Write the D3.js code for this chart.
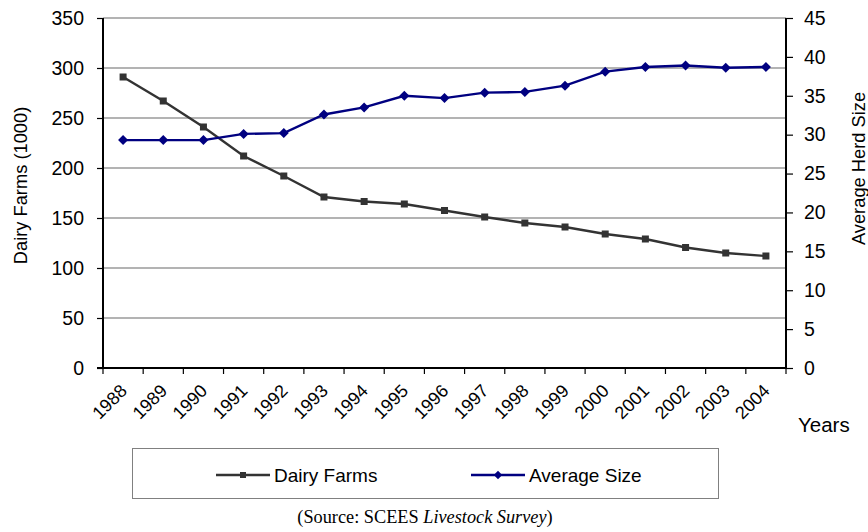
<!DOCTYPE html>
<html>
<head>
<meta charset="utf-8">
<script src="https://cdn.jsdelivr.net/npm/d3@7"></script>
<style>
  html, body { margin: 0; padding: 0; background: #fff; }
  svg { display: block; }
  text { font-family: "Liberation Sans", Arial, sans-serif; fill: #000; }
</style>
</head>
<body>
<svg id="chart" width="868" height="532"></svg>
<script>
const years = ["1988","1989","1990","1991","1992","1993","1994","1995","1996","1997","1998","1999","2000","2001","2002","2003","2004"];
const dairyFarms = [291, 267, 241, 212, 192, 171, 166.5, 164, 157.5, 151, 145, 141, 134, 129, 120.5, 115, 112];
const averageSize = [29.3, 29.3, 29.3, 30.1, 30.2, 32.6, 33.5, 35.0, 34.7, 35.4, 35.5, 36.3, 38.1, 38.7, 38.9, 38.6, 38.7];
const leftTicks = [0, 50, 100, 150, 200, 250, 300, 350];
const rightTicks = [0, 5, 10, 15, 20, 25, 30, 35, 40, 45];

const svg = d3.select("#chart");
const L = 103, R = 786, T = 18, B = 368;

const x = d3.scaleBand().domain(years).range([L, R]).padding(0);
const yL = d3.scaleLinear().domain([0, 350]).range([B, T]);
const yR = d3.scaleLinear().domain([0, 45]).range([B, T]);
const cx = d => x(d) + x.bandwidth() / 2;

// gridlines
svg.append("g").selectAll("line").data(leftTicks.filter(d => d > 0)).join("line")
  .attr("x1", L).attr("x2", R)
  .attr("y1", d => yL(d)).attr("y2", d => yL(d))
  .attr("stroke", "#9a9a9a").attr("stroke-width", 1.3);

// left axis
const gL = svg.append("g").attr("transform", `translate(${L},0)`)
  .call(d3.axisLeft(yL).tickValues(leftTicks).tickSize(6).tickPadding(13));
gL.select(".domain").attr("stroke", "#000").attr("stroke-width", 2).attr("d", `M0,${T}V${B}`);
gL.selectAll(".tick line").attr("stroke", "#000").attr("stroke-width", 1.2);
gL.selectAll(".tick text").attr("font-size", 19.5).attr("font-family", "Liberation Sans, Arial, sans-serif").attr("fill", "#000");

// right axis
const gR = svg.append("g").attr("transform", `translate(${R},0)`)
  .call(d3.axisRight(yR).tickValues(rightTicks).tickSize(7).tickPadding(11));
gR.select(".domain").attr("stroke", "#000").attr("stroke-width", 2).attr("d", `M0,${T}V${B}`);
gR.selectAll(".tick line").attr("stroke", "#000").attr("stroke-width", 1.2);
gR.selectAll(".tick text").attr("font-size", 19.5).attr("font-family", "Liberation Sans, Arial, sans-serif").attr("fill", "#000");

// x axis (ticks at category boundaries)
const boundaries = years.map(d => x(d)).concat([R]);
const gX = svg.append("g");
gX.selectAll("line.tk").data(boundaries).join("line").attr("class", "tk")
  .attr("x1", d => d).attr("x2", d => d).attr("y1", B).attr("y2", B + 6)
  .attr("stroke", "#000").attr("stroke-width", 1.2);
gX.append("line").attr("x1", L - 6).attr("x2", R).attr("y1", B).attr("y2", B)
  .attr("stroke", "#000").attr("stroke-width", 2);
gX.selectAll("text").data(years).join("text")
  .attr("transform", d => `translate(${cx(d) + 5},${B + 24}) rotate(-45)`)
  .attr("text-anchor", "end")
  .attr("font-size", 18).text(d => d);

// lines
const lineL = d3.line().x((d, i) => cx(years[i])).y(d => yL(d));
const lineR = d3.line().x((d, i) => cx(years[i])).y(d => yR(d));

svg.append("path").datum(dairyFarms).attr("d", lineL)
  .attr("fill", "none").attr("stroke", "#333333").attr("stroke-width", 2.4);
svg.append("path").datum(averageSize).attr("d", lineR)
  .attr("fill", "none").attr("stroke", "#000080").attr("stroke-width", 2.4);

svg.append("g").selectAll("rect").data(dairyFarms).join("rect")
  .attr("x", (d, i) => cx(years[i]) - 3.5).attr("y", d => yL(d) - 3.5)
  .attr("width", 7).attr("height", 7).attr("fill", "#333333");

const diamond = d3.symbol().type(d3.symbolDiamond2).size(64);
svg.append("g").selectAll("path").data(averageSize).join("path")
  .attr("d", diamond)
  .attr("transform", (d, i) => `translate(${cx(years[i])},${yR(d)})`)
  .attr("fill", "#000080");

// axis titles
svg.append("text").attr("transform", `translate(26.5,185.5) rotate(-90)`)
  .attr("text-anchor", "middle").attr("font-size", 18.3).text("Dairy Farms (1000)");
svg.append("text").attr("transform", `translate(865,168.5) rotate(-90)`)
  .attr("text-anchor", "middle").attr("font-size", 18.3).text("Average Herd Size");
svg.append("text").attr("x", 798).attr("y", 431.5).attr("font-size", 20.5).text("Years");

// legend
const lg = svg.append("g");
lg.append("rect").attr("x", 132.5).attr("y", 448.5).attr("width", 586).attr("height", 50)
  .attr("fill", "#fff").attr("stroke", "#808080").attr("stroke-width", 1);
const legendItems = [
  { name: "Dairy Farms", color: "#333333", x0: 216, shape: "square" },
  { name: "Average Size", color: "#000080", x0: 471, shape: "diamond" }
];
const ly = 475;
legendItems.forEach(it => {
  lg.append("line").attr("x1", it.x0).attr("x2", it.x0 + 54).attr("y1", ly).attr("y2", ly)
    .attr("stroke", it.color).attr("stroke-width", 2.4);
  if (it.shape === "square") {
    lg.append("rect").attr("x", it.x0 + 27 - 3).attr("y", ly - 3).attr("width", 6).attr("height", 6).attr("fill", it.color);
  } else {
    lg.append("path").attr("d", d3.symbol().type(d3.symbolDiamond2).size(45))
      .attr("transform", `translate(${it.x0 + 27},${ly})`).attr("fill", it.color);
  }
  lg.append("text").attr("x", it.x0 + 58).attr("y", 481.5)
    .attr("font-size", 19).text(it.name);
});

// source
const src = svg.append("text").attr("x", 425).attr("y", 523).attr("text-anchor", "middle")
  .attr("font-size", 18.3).style("font-family", "'Liberation Serif', 'Times New Roman', serif");
src.append("tspan").text("(Source: SCEES ");
src.append("tspan").attr("font-style", "italic").text("Livestock Survey");
src.append("tspan").text(")");
</script>
</body>
</html>
